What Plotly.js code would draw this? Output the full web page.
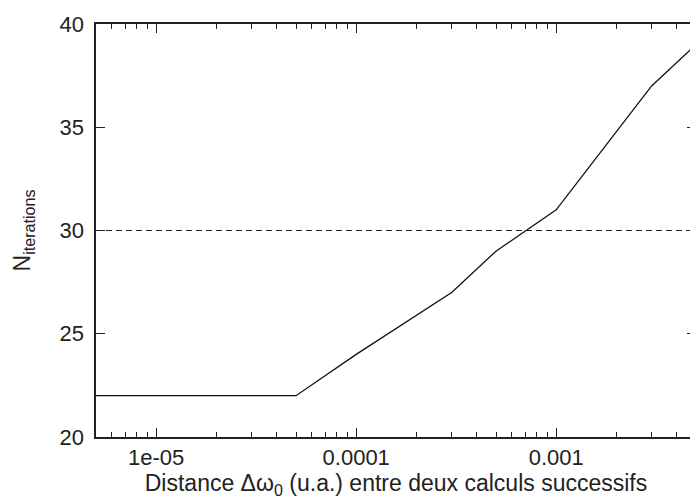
<!DOCTYPE html>
<html>
<head>
<meta charset="utf-8">
<script src="https://cdn.plot.ly/plotly-3.0.1.min.js"></script>
<style>
html, body { margin: 0; padding: 0; overflow: hidden; background: #fff; }
#chart { width: 700px; height: 500px; }
</style>
</head>
<body>
<div id="chart"></div>
<script>
// Data
const distance = [5e-6, 1e-5, 5e-5, 1e-4, 3e-4, 5e-4, 1e-3, 3e-3, 5e-3];
const iterations = [22, 22, 22, 24, 27, 29, 31, 37, 39];
const threshold = 30;
const xTickVals = [1e-5, 1e-4, 1e-3];
const xTickText = ['1e-05', '0.0001', '0.001'];
const yTickVals = [20, 25, 30, 35, 40];
const xRange = [5e-6, 5e-3];
const yRange = [20, 40];

// minor tick positions on the log axis (2..9 in each decade)
const xMinorTicks = [];
for (let e = -6; e <= -3; e++) {
  for (let d = 2; d <= 9; d++) {
    const v = d * Math.pow(10, e);
    if (v > xRange[0] && v < xRange[1]) xMinorTicks.push(v);
  }
}

const ink = '#222';
const fontFam = '"Liberation Sans", Arial, Helvetica, sans-serif';

const trace = {
  x: distance,
  y: iterations,
  type: 'scatter',
  mode: 'lines',
  line: { color: '#111', width: 1.3 },
  hoverinfo: 'skip',
  showlegend: false
};

const layout = {
  width: 700,
  height: 500,
  margin: { l: 96, r: 4, t: 24, b: 63 },
  paper_bgcolor: '#fff',
  plot_bgcolor: '#fff',
  font: { family: fontFam, size: 22, color: ink },
  showlegend: false,
  xaxis: {
    type: 'log',
    range: [Math.log10(xRange[0]), Math.log10(xRange[1])],
    tickmode: 'array',
    tickvals: xTickVals,
    ticktext: xTickText,
    ticks: 'inside',
    ticklen: 9,
    tickwidth: 1.2,
    tickcolor: ink,
    showline: true,
    linecolor: ink,
    linewidth: 1.6,
    mirror: 'ticks',
    showgrid: false,
    zeroline: false,
    minor: { tickmode: 'array', tickvals: xMinorTicks, ticks: 'inside', ticklen: 5, tickwidth: 1, tickcolor: ink, showgrid: false },
    tickfont: { family: fontFam, size: 22, color: ink },
    title: { text: 'Distance Δω<sub>0</sub> (u.a.) entre deux calculs successifs', font: { family: fontFam, size: 23, color: ink }, standoff: 2 }
  },
  yaxis: {
    range: yRange,
    tickmode: 'array',
    tickvals: yTickVals,
    ticks: 'inside',
    ticklen: 9,
    tickwidth: 1.2,
    tickcolor: ink,
    showline: true,
    linecolor: ink,
    linewidth: 1.6,
    mirror: 'ticks',
    showgrid: false,
    zeroline: false,
    ticklabelstandoff: 6,
    tickfont: { family: fontFam, size: 22, color: ink },
    title: { text: 'N<sub>iterations</sub>', font: { family: fontFam, size: 23, color: ink }, standoff: 22 }
  },
  shapes: [{
    type: 'line', xref: 'paper', x0: 0, x1: 1, yref: 'y', y0: threshold, y1: threshold,
    line: { color: ink, width: 1.2, dash: '6px,4px' }
  }]
};

Plotly.newPlot('chart', [trace], layout, { displayModeBar: false, staticPlot: true });
</script>
</body>
</html>
